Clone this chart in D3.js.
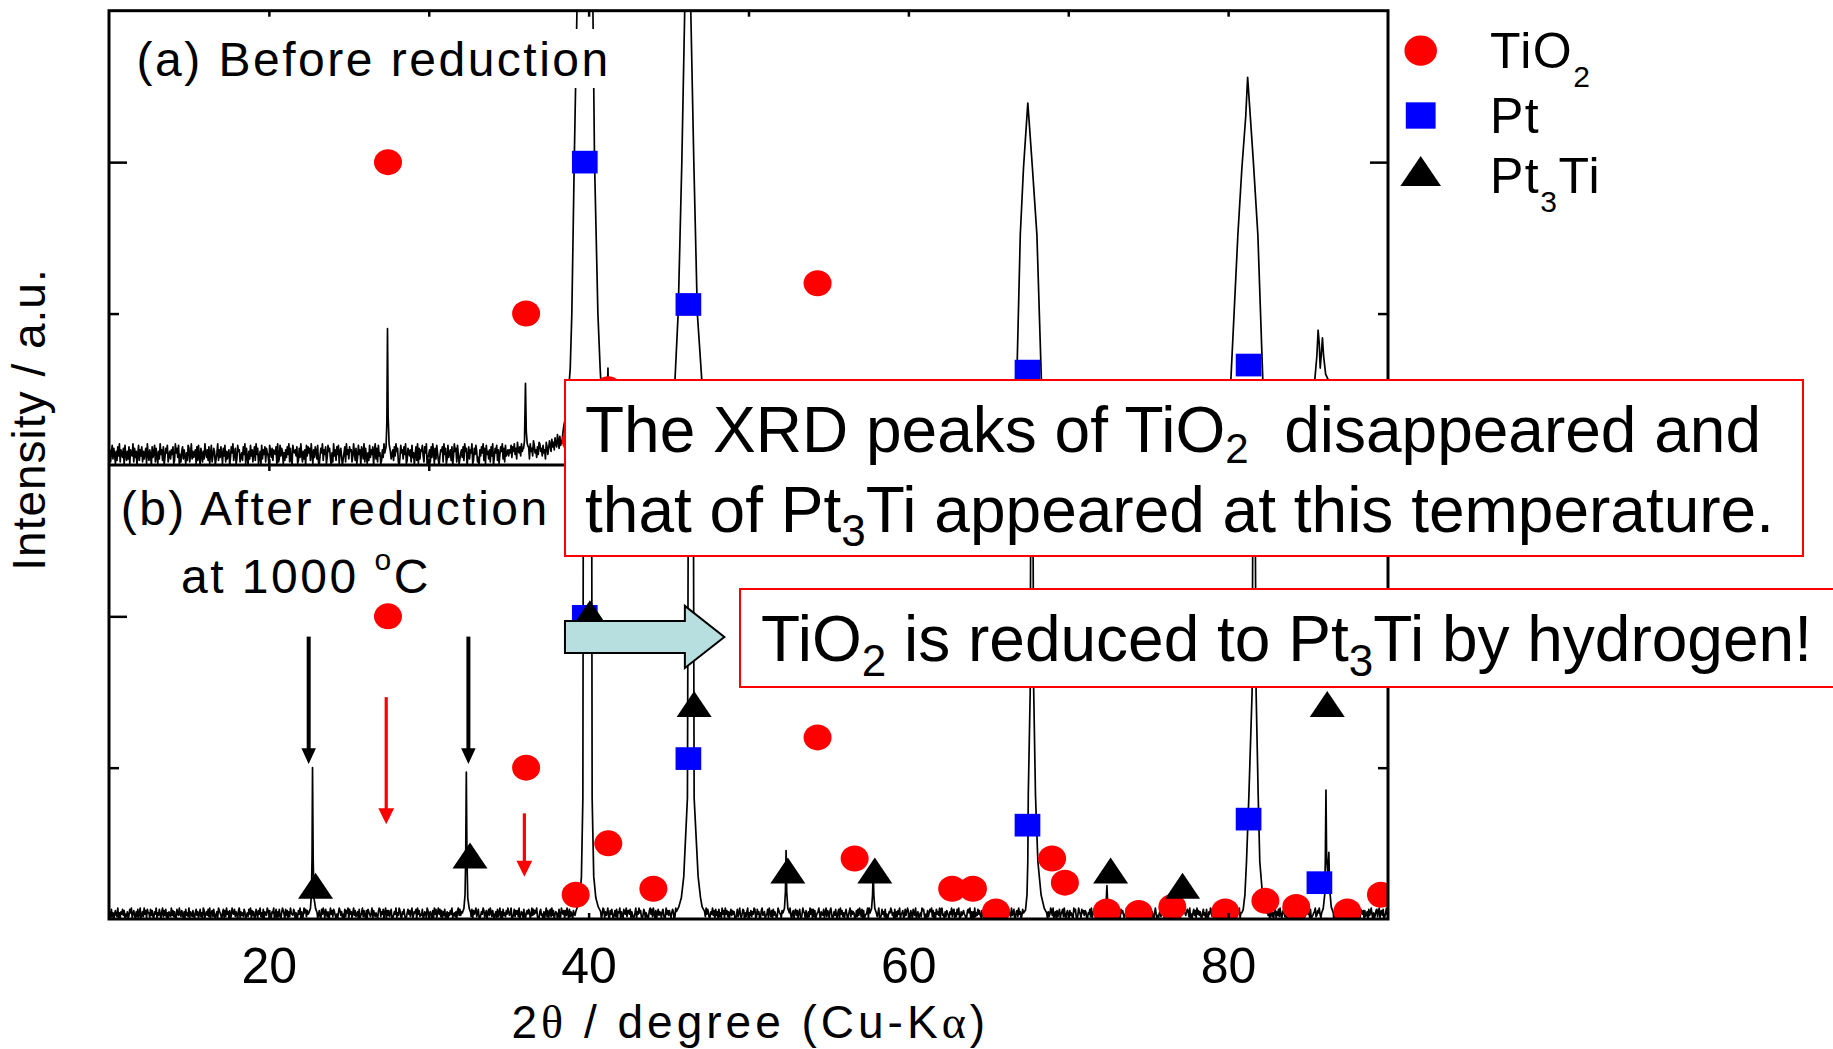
<!DOCTYPE html>
<html>
<head>
<meta charset="utf-8">
<script src="https://cdn.jsdelivr.net/npm/d3@7"></script>
<style>
  html, body { margin: 0; padding: 0; background: #fff; }
  svg { display: block; }
  text { font-family: "Liberation Sans", Arial, sans-serif; white-space: pre; }
</style>
</head>
<body>
<svg id="chart" width="1833" height="1049"></svg>
<script>
// ---------------- DATA ----------------
const xDomain = [10, 90];              // 2theta / degree
const yDomain = [0, 150];              // intensity / a.u. (per panel)
const xTickValues = [20, 30, 40, 50, 60, 70, 80];
const xTickLabels = [20, 40, 60, 80];
const yMajorTicks = [100];
const yMinorTicks = [50];

// reference pattern markers [2theta, relative intensity]
const tio2Ref = [[27.45,100],[36.09,50],[39.19,8],[41.23,25],[44.05,10],[54.32,60],[56.64,20],[62.74,10],[64.04,10],[65.48,2.5],[68.99,20],[69.79,12],[72.41,2.5],[74.41,2],[76.51,4],[79.82,2.5],[82.33,6],[84.26,4],[87.46,2.5],[89.56,8]];
const ptRef = [[39.76,100],[46.24,53],[67.45,31],[81.28,33],[85.71,12]];
const pt3tiRef = [[22.92,11],[32.58,21],[40.08,101],[46.6,71],[52.46,16],[57.9,16],[72.65,16],[77.15,11],[86.2,71]];

// baseline noise, one base-36 character per sample, evenly spaced from 10 to 90 deg
// intensity = code * noiseUnit
const noiseUnitA = 0.5;
const noiseUnitB = 0.4;
const noiseA = [
 "5a28d4b7193c6e2a85b0d7394c1a86e2b5907d3a6c2948b1e6",
 "3a70c58d2b6194e7a3c05b8d2694a7c13e8b5d0729c4a6183d",
 "b27e4958a1c3d60b7294e85a3c17d26b9048e3a5c71b6d2948",
 "a05c8e37b14d9a2683c7e1b5094d6a28c3e7b1590d4a7c2b86",
 "1d95b3a87c0e24d6b9183a5c7e2b40d98a6c13b5e7294a0d6c",
 "8b3e71a5c94d206b8e3a7c15d9b4082e6a3c7d19b5048c2e7a",
 "4c9a26e83b15d7a0c94e2b6183d5a7c09e4b2d6813a5e7c29b",
 "d1847a3c6e9b205d8a4c7e13b96a2d5807c3e1b4a9d62c8e05",
 "7a2c5e91b4d8306a9c2e7b14d58a3c06e9b2d7148a5c3e9b06",
 "c4a8e13b7d9250a6c8e3b1d794a2c6e05b8d3a17c9e4b2d68a",
 "6a8d5c9e7b4fa8c6e9b5da7f8c4e9b6gd8a5c7fe9b6d8a4fc7",
 "bgd9hcfaieckgbjdfhmcigekbhlfjdngkeimhjlonkmpjlqnko",
 "jlhkimgjkhlfijgkhejgifhkdgjefhcgidfhbegdcfhaedgbfc",
 "d9ecbfa8dcb9eacdb8fcad9bec8adbc9faeb8dca9bfc8eadb9",
 "a8c9b7a9c8b6a9c7b8a6c9b7a8c9b6a7c8b9a6c7b8a9c6b7a8",
 "c9b7a8c6b9a7c8b6a9c7b8a6c9b7a8c9b6a7c8b9a6c7b8a9c6",
 "b7a8c9b6a7c8b9a6c7b8a9c6b7a8c9b6a7c8b9a6c7b8a9c6b7",
 "a8c9b6a7c8b9a6c7b8a9c6b7a8c9b6a7c8b9a6c7b8a9c6b7a8",
 "c9b7a8c6b9a7c8b6a9c7b8a6c9b7a8c9b6a7c8b9a6c7b8a9c6",
 "b7a8c9b6a7c8b9a6c7b8a9c6b7a8c9b6a7c8b9a6c7b8a9c6b7",
 "a8c9b7a9c8b6a9c7b8a6c9b7a8c9b6a7c8b9a6c7b8a9c6b7a8",
 "c9b7a8c6b9a7c8b6a9c7b8a6c9b7a8c9b6a7c8b9a6c7b8a9c6",
 "b7a8c9b6a7c8b9a6c7b8a9c6b7a8c9b6a7c8b9a6c7b8a9c6b7",
 "a8c9b6a7c8b9a6c7b8a9c6b7a8c9b6a7c8b9a6c7b8a9c6b7a8",
 "c9b7a8c6b9a7c8b6a9c7b8a6c9b7a8c9b6a7c8b9a6c7b8a9c6",
 "b7a8c9b6a7c8b9a6c7b8a9c6b7a8c9b6a7c8b9a6c7b8a9c6b7",
 "a8c9b7a9c8b6a9c7b8a6c9b7a8c9b6a7c8b9a6c7b8a9c6b7a8",
 "c9b7a8c6b9a7c8b6a9c7b8a6c9b7a8c9b6a7c8b9a6c7b8a9c6",
 "b7a8c9b6a7c8b9a6c7b8a9c6b7a8c9b6a7c8b9a6c7b8a9c6b7",
 "a8c9b6a7c8b9a6c7b8a9c6b7a8c9b6a7c8b9a6c7b8a9c6b7a8",
 "c9b7a8c6b9a7c8b6a9c7b8a6c9b7a8c9b6a7c8b9a6c7b8a9c6",
 "b7a8c9b6a7c8b9a6c7b8a9c6b7a8c9b6a7c8b9a6c7b8a9c6b7",
 "8"
].join("");
const noiseB = [
 "36182504732905164837142603859147306281590362947185",
 "51837206491538406927381506429372610853942740618352",
 "91642730583614825097146382905728304619753058172946",
 "17039548264079163528603528491736028517492518064397",
 "47216590381628305974083716295438605127491603958274",
 "52840716396137208495185260394728631405973614082759",
 "08461593724608135927307186425917425306982648059173",
 "72580136491539720648301584726913658094724380265197",
 "25631709481594827063812605374914526079383627180594",
 "30528174692581036497147058396273046182591608352749",
 "63590148274729036518205748613938475920168340615927",
 "15829370465038129647173950826407431698253906157284",
 "25061738495127360498163592074830472816591630854927",
 "74816302591649572038615302794829417058365168302947",
 "37415860294315907268246908517360823174593507162948",
 "50264937183608251947194726058374610382593148705269",
 "05372649812846017935603481952718364029754179350628",
 "24930571683715820496517306294818270356940643815927",
 "51794026383068194725158403692746501728396281703459",
 "19354026877259013846281403659735081627490457128369",
 "62174085391460352978304172586927051846391893406275",
 "30649278152849106357430278591616092538473175096428",
 "29631507484617392058175083642935801672946038275149",
 "17520389645306281749083516249739146072581468293057",
 "41735209682039641857376105482916483029750736218459",
 "52810463972963018574143962075860517382493149065827",
 "28471630594031572968153092864737528061490592471368",
 "62904158371947362058351820649724603589175173920846",
 "15362087493648915027275036481941362905782815703649",
 "39046251781638294057527108369424306159781369402758",
 "47180235692375941068146805293738160274590562871394",
 "28374610593591208647172460835940513782691673802594",
 "3"
].join("");

// diffraction peak profiles [2theta, intensity]
const peakA_TiO2_110 = [[27.25,4],[27.33,6],[27.38,14],[27.42,45],[27.46,16],[27.52,7],[27.6,4.5]];
const peakA_TiO2_101 = [[35.93,5.5],[35.99,8],[36.05,27],[36.1,11],[36.16,7],[36.22,6]];
const peakA_Pt_111 = [[38.45,13],[38.6,17],[38.7,21],[38.85,32],[38.95,50],[39.1,100],[39.27,150],[39.5,300],[39.77,450],[40.05,300],[40.27,150],[40.37,100],[40.58,50],[40.72,32],[40.83,21],[41.0,16],[41.15,17],[41.21,32],[41.25,18],[41.35,14],[41.5,13]];
const peakA_Pt_200 = [[45.2,16],[45.4,28],[45.6,50],[45.83,100],[46.01,150],[46.1,250],[46.2,320],[46.3,250],[46.39,150],[46.58,100],[46.8,50],[47.08,28],[47.3,16]];
const peakA_Pt_220 = [[66.4,12],[66.78,28],[67.0,76],[67.2,98],[67.47,119.5],[67.6,110],[67.76,98],[68.04,76],[68.32,28],[68.6,12]];
const peakA_Pt_311 = [[79.9,12],[80.17,28],[80.61,76],[80.86,98],[81.1,115],[81.22,128],[81.35,118],[81.58,100],[81.86,76],[82.17,28],[82.45,12]];
const peakA_Pt_222 = [[85.25,8],[85.42,28],[85.55,36],[85.63,44.5],[85.7,40],[85.76,32],[85.82,36],[85.9,42],[85.97,36],[86.1,30],[86.27,28],[86.45,8]];

const peakB_100 = [[22.5,2],[22.6,3.5],[22.66,8],[22.7,20],[22.73,50],[22.77,20],[22.82,7],[22.92,3.5],[23.02,2]];
const peakB_110 = [[32.1,2],[32.2,3.5],[32.27,8],[32.31,20],[32.35,48.5],[32.39,20],[32.44,7],[32.53,3.5],[32.63,2]];
const peakB_111 = [[39.2,2.5],[39.3,4],[39.45,7],[39.55,14],[39.64,40],[39.67,150],[39.72,400],[39.93,800],[40.14,400],[40.19,150],[40.22,40],[40.32,14],[40.45,7],[40.6,4],[40.75,2.5]];
const peakB_200 = [[45.5,2.5],[45.64,4],[45.8,7],[45.95,14],[46.18,40],[46.24,150],[46.3,400],[46.4,800],[46.5,400],[46.55,150],[46.6,40],[46.85,14],[47.0,7],[47.1,4],[47.25,2.5]];
const peakB_210 = [[52.15,2],[52.25,3.5],[52.31,9],[52.35,22.6],[52.39,9],[52.46,3.5],[52.56,2]];
const peakB_211 = [[57.6,2],[57.7,3.5],[57.76,8],[57.8,16],[57.84,8],[57.9,3.5],[58.0,2]];
const peakB_220 = [[67.2,2],[67.33,3],[67.42,8],[67.47,19],[67.5,41],[67.62,75],[67.66,150],[67.72,400],[67.78,150],[67.84,75],[67.95,41],[68.1,19],[68.3,8],[68.5,3.5],[68.65,2]];
const peakB_300 = [[72.25,2],[72.35,3.5],[72.42,11],[72.48,3.5],[72.58,2]];
const peakB_310 = [[77.05,2],[77.11,3],[77.16,6],[77.21,3],[77.3,2]];
const peakB_311 = [[80.85,2],[80.94,3],[81.05,8],[81.15,19],[81.3,41],[81.5,75],[81.56,150],[81.62,400],[81.68,150],[81.75,75],[81.88,41],[81.98,19],[82.15,8],[82.3,3],[82.4,2]];
const peakB_222 = [[85.85,2],[85.95,3.5],[86.04,8],[86.08,20],[86.12,42.6],[86.16,20],[86.23,15],[86.3,22],[86.35,10],[86.45,4],[86.58,2]];

const peaksA = [peakA_TiO2_110, peakA_TiO2_101, peakA_Pt_111, peakA_Pt_200, peakA_Pt_220, peakA_Pt_311, peakA_Pt_222];
const peaksB = [peakB_100, peakB_110, peakB_111, peakB_200, peakB_210, peakB_211, peakB_220, peakB_300, peakB_310, peakB_311, peakB_222];

// annotation arrows in panel (b): [2theta, from intensity, to intensity]
const blackArrows = [[22.49, 93.3, 51.2], [32.48, 93.3, 51.2]];
const redArrows = [[27.34, 73.3, 31.3], [35.98, 34.9, 14.0]];
const tealArrow = { from: 38.52, headBase: 46.02, to: 48.49, level: 93.2 };

const legendItems = [
  { name: "TiO", sub: "2", after: "", shape: "circle" },
  { name: "Pt", sub: "", after: "", shape: "square" },
  { name: "Pt", sub: "3", after: "Ti", shape: "triangle" }
];

// ---------------- DRAWING ----------------
const svg = d3.select("#chart");
const FRAME = { left: 109, right: 1388, top: 10.7, mid: 465, bottom: 919 };
const x = d3.scaleLinear().domain(xDomain).range([FRAME.left, FRAME.right]);
const yA = d3.scaleLinear().domain(yDomain).range([FRAME.mid, FRAME.top]);
const yB = d3.scaleLinear().domain(yDomain).range([FRAME.bottom, FRAME.mid]);

function buildSeries(noise, unit, peaks) {
  const step = (xDomain[1] - xDomain[0]) / (noise.length - 1);
  const pts = [];
  for (let i = 0; i < noise.length; i++) {
    const t = xDomain[0] + i * step;
    const inside = peaks.some(p => t >= p[0][0] && t <= p[p.length - 1][0]);
    if (!inside) pts.push([t, parseInt(noise[i], 36) * unit]);
  }
  peaks.forEach(p => p.forEach(q => pts.push(q)));
  pts.sort((a, b) => a[0] - b[0]);
  return pts;
}

svg.append("rect").attr("width", 1833).attr("height", 1049).attr("fill", "#fff");

const defs = svg.append("defs");
[["clipA", FRAME.top, FRAME.mid], ["clipB", FRAME.mid, FRAME.bottom]].forEach(([id, t, b]) => {
  defs.append("clipPath").attr("id", id).append("rect")
    .attr("x", FRAME.left).attr("y", t).attr("width", FRAME.right - FRAME.left).attr("height", b - t);
});

const panels = [
  { y: yA, clip: "clipA", series: buildSeries(noiseA, noiseUnitA, peaksA), refs: [["tio2", tio2Ref], ["pt", ptRef]] },
  { y: yB, clip: "clipB", series: buildSeries(noiseB, noiseUnitB, peaksB), refs: [["tio2", tio2Ref], ["pt", ptRef], ["pt3ti", pt3tiRef]] }
];

const CIRC = { rx: 14, ry: 13 }, SQ = { w: 25.7, h: 22.7 }, TRI = { w: 35, h: 26 };
function drawMarker(g, kind, cx, cy, scale) {
  const s = scale || 1;
  if (kind === "tio2" || kind === "circle") {
    g.append("ellipse").attr("cx", cx).attr("cy", cy).attr("rx", CIRC.rx * s).attr("ry", CIRC.ry * s).attr("fill", "#ff0000");
  } else if (kind === "pt" || kind === "square") {
    g.append("rect").attr("x", cx - SQ.w * s / 2).attr("y", cy - SQ.h * s / 2).attr("width", SQ.w * s).attr("height", SQ.h * s).attr("fill", "#0000ff");
  } else {
    const w = TRI.w * s, h = TRI.h * s;
    g.append("path").attr("d", `M${cx},${cy - h / 2}L${cx + w / 2},${cy + h / 2}L${cx - w / 2},${cy + h / 2}Z`).attr("fill", "#000");
  }
}

const line = d3.line();
panels.forEach(p => {
  const g = svg.append("g").attr("clip-path", `url(#${p.clip})`);
  g.append("path").datum(p.series)
    .attr("d", line.x(d => x(d[0])).y(d => p.y(d[1])))
    .attr("fill", "none").attr("stroke", "#000").attr("stroke-width", 1.7).attr("stroke-linejoin", "round");
  p.refs.forEach(([kind, arr]) => {
    arr.forEach(d => drawMarker(g, kind, x(d[0]), p.y(d[1])));
  });
  p.g = g;
});

// arrows in panel b
const gb = panels[1].g;
blackArrows.forEach(([t, f, e]) => {
  const xx = x(t), y0 = yB(f), y1 = yB(e), hl = 15.7, hw = 14.5;
  gb.append("line").attr("x1", xx).attr("x2", xx).attr("y1", y0).attr("y2", y1 - hl + 1).attr("stroke", "#000").attr("stroke-width", 4);
  gb.append("path").attr("d", `M${xx - hw / 2},${y1 - hl}L${xx + hw / 2},${y1 - hl}L${xx},${y1}Z`).attr("fill", "#000");
});
redArrows.forEach(([t, f, e]) => {
  const xx = x(t), y0 = yB(f), y1 = yB(e), hl = 16, hw = 15.8;
  gb.append("line").attr("x1", xx).attr("x2", xx).attr("y1", y0).attr("y2", y1 - hl + 1).attr("stroke", "#ff0000").attr("stroke-width", 3.2);
  gb.append("path").attr("d", `M${xx - hw / 2},${y1 - hl}L${xx + hw / 2},${y1 - hl}L${xx},${y1}Z`).attr("fill", "#ff0000");
});

// axes ticks (inward)
function ticksFor(yScale, top, bottom) {
  svg.append("g").attr("transform", `translate(0,${bottom})`)
    .call(d3.axisBottom(x).tickValues(xTickValues).tickSize(-6).tickFormat(""));
  svg.append("g").attr("transform", `translate(0,${top})`)
    .call(d3.axisTop(x).tickValues(xTickValues).tickSize(-6).tickFormat(""));
  svg.append("g").attr("transform", `translate(${FRAME.left},0)`)
    .call(d3.axisLeft(yScale).tickValues(yMajorTicks).tickSize(-18).tickFormat(""));
  svg.append("g").attr("transform", `translate(${FRAME.left},0)`)
    .call(d3.axisLeft(yScale).tickValues(yMinorTicks).tickSize(-10).tickFormat(""));
  svg.append("g").attr("transform", `translate(${FRAME.right},0)`)
    .call(d3.axisRight(yScale).tickValues(yMajorTicks).tickSize(-18).tickFormat(""));
  svg.append("g").attr("transform", `translate(${FRAME.right},0)`)
    .call(d3.axisRight(yScale).tickValues(yMinorTicks).tickSize(-10).tickFormat(""));
}
ticksFor(yA, FRAME.top, FRAME.mid);
ticksFor(yB, FRAME.mid, FRAME.bottom);
svg.selectAll(".domain").remove();
svg.selectAll(".tick line").attr("stroke", "#000").attr("stroke-width", 2.5);

// frame
svg.append("rect").attr("x", FRAME.left).attr("y", FRAME.top)
  .attr("width", FRAME.right - FRAME.left).attr("height", FRAME.bottom - FRAME.top)
  .attr("fill", "none").attr("stroke", "#000").attr("stroke-width", 3);
svg.append("line").attr("x1", FRAME.left).attr("x2", FRAME.right).attr("y1", FRAME.mid).attr("y2", FRAME.mid)
  .attr("stroke", "#000").attr("stroke-width", 3);

// x tick labels
const xl = svg.append("g").attr("transform", `translate(0,${FRAME.bottom})`)
  .call(d3.axisBottom(x).tickValues(xTickLabels).tickSize(0).tickFormat(d3.format("d")));
xl.select(".domain").remove();
xl.selectAll("text").attr("y", 64).attr("dy", null).attr("fill", "#000")
  .style("font-size", "50px").style("font-family", "'Liberation Sans', Arial, sans-serif");

// axis titles
const xt = svg.append("text").attr("x", 511.5).attr("y", 1038).style("font-size", "46px").style("letter-spacing", "4px");
xt.append("tspan").text("2");
xt.append("tspan").style("font-family", "'Liberation Serif', 'DejaVu Serif', serif").text("θ");
xt.append("tspan").text(" / degree (Cu-K");
xt.append("tspan").style("font-family", "'Liberation Serif', 'DejaVu Serif', serif").text("α");
xt.append("tspan").text(")");

svg.append("text").attr("transform", "translate(45,419.5) rotate(-90)").attr("text-anchor", "middle")
  .style("font-size", "46px").style("letter-spacing", "1px").text("Intensity / a.u.");

// panel labels
svg.append("rect").attr("x", 126).attr("y", 29).attr("width", 488).attr("height", 59).attr("fill", "#fff");
svg.append("text").attr("x", 136.5).attr("y", 76).style("font-size", "48px").style("letter-spacing", "2.5px").text("(a) Before reduction");
svg.append("text").attr("x", 120.7).attr("y", 525).style("font-size", "48px").style("letter-spacing", "2.5px").text("(b) After reduction");
const t1000 = svg.append("text").attr("x", 181).attr("y", 593).style("font-size", "48px").style("letter-spacing", "2.5px");
t1000.append("tspan").text("at 1000 ");
t1000.append("tspan").attr("dy", -23).style("font-size", "30px").text("o");
t1000.append("tspan").attr("dy", 23).text("C");

// teal arrow
{
  const x0 = x(tealArrow.from), xb = x(tealArrow.headBase), x1 = x(tealArrow.to), yc = yB(tealArrow.level);
  const sh = 16, hh = 31;
  svg.append("path")
    .attr("d", `M${x0},${yc - sh}L${xb},${yc - sh}L${xb},${yc - hh}L${x1},${yc}L${xb},${yc + hh}L${xb},${yc + sh}L${x0},${yc + sh}Z`)
    .attr("fill", "#b8dfe0").attr("stroke", "#000").attr("stroke-width", 2).attr("stroke-linejoin", "miter");
}

// rich text helper: parts are plain strings or {sub: "..."}
function richText(parent, px, py, size, subSize, subShift, parts) {
  const t = parent.append("text").attr("x", px).attr("y", py).style("font-size", size + "px");
  let shifted = false;
  parts.forEach(pt => {
    if (typeof pt === "object") {
      t.append("tspan").attr("dy", subShift).style("font-size", subSize + "px").text(pt.sub);
      shifted = true;
    } else {
      const sp = t.append("tspan").text(pt);
      if (shifted) { sp.attr("dy", -subShift); shifted = false; }
    }
  });
  return t;
}

// annotation box 1
svg.append("rect").attr("x", 565).attr("y", 380).attr("width", 1238).attr("height", 176)
  .attr("fill", "#fff").attr("stroke", "#ff0000").attr("stroke-width", 2);
richText(svg, 585, 452, 64, 42, 11, ["The XRD peaks of TiO", { sub: "2" }, "  disappeared and"]);
richText(svg, 585, 532, 64, 44, 14, ["that of Pt", { sub: "3" }, "Ti appeared at this temperature."]);

// annotation box 2
svg.append("rect").attr("x", 740).attr("y", 589).attr("width", 1200).attr("height", 98)
  .attr("fill", "#fff").attr("stroke", "#ff0000").attr("stroke-width", 2);
richText(svg, 761, 661, 64, 44, 15, ["TiO", { sub: "2" }, " is reduced to Pt", { sub: "3" }, "Ti by hydrogen!"]);

// legend
const legendRows = [{ cy: 50.7, base: 67.7 }, { cy: 115.5, base: 132.7 }, { cy: 171, base: 192.7 }];
legendItems.forEach((it, i) => {
  const r = legendRows[i];
  drawMarker(svg, it.shape, 1420.7, r.cy, 1.16);
  const t = svg.append("text").attr("x", 1490).attr("y", r.base).style("font-size", "50px").style("letter-spacing", "1.5px");
  t.append("tspan").text(it.name);
  if (it.sub) {
    t.append("tspan").attr("dy", 19).style("font-size", "30px").text(it.sub);
    t.append("tspan").attr("dy", -19).text(it.after);
  }
});
</script>
</body>
</html>
